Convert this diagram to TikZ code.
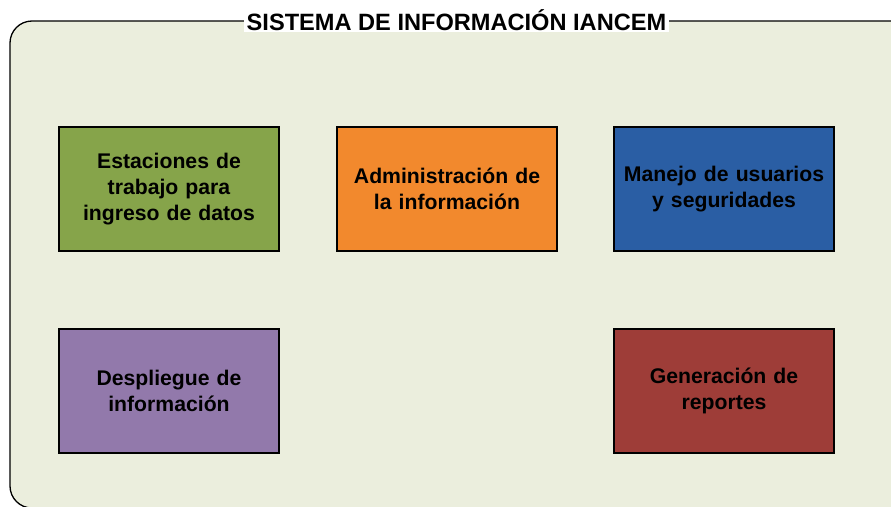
\documentclass[tikz,border=0pt]{standalone}
\usepackage{fontspec}
\setmainfont{Liberation Sans}
\definecolor{bgc}{HTML}{EBEEDD}
\definecolor{cgreen}{HTML}{86A44A}
\definecolor{corange}{HTML}{F2892D}
\definecolor{cblue}{HTML}{2A5EA4}
\definecolor{cpurple}{HTML}{9279AB}
\definecolor{cred}{HTML}{9E3D38}
\begin{document}
\begin{tikzpicture}[x=1pt,y=-1pt,
  box/.style={draw=black,line width=1.3pt,minimum width=220pt,minimum height=124pt,
    align=center,font=\bfseries\fontsize{21.2}{26}\selectfont,inner sep=0pt,text width=210pt}]
\useasboundingbox (0,0) rectangle (891,506);
\clip (0,0) rectangle (891,506);
\fill[white] (0,0) rectangle (891,506);
\draw[fill=bgc,line width=1.3pt,rounded corners=22pt] (10,21) rectangle (920,508);
\node[fill=white,inner xsep=3pt,inner ysep=1pt,font=\bfseries\fontsize{23.6}{25}\selectfont] (title) at (456.5,20) {SISTEMA DE INFORMACIÓN IANCEM};
\node[box,fill=cgreen] (est) at (169,189) {Estaciones de\\trabajo para\\ingreso de datos};
\node[box,fill=corange] (adm) at (447,189) {Administración de\\la información};
\node[box,fill=cblue] (man) at (724,189) {Manejo de usuarios\\y seguridades};
\node[box,fill=cpurple] (des) at (169,391) {Despliegue de\\información};
\node[box,fill=cred] (gen) at (724,391) {Generación de\\reportes};
\end{tikzpicture}
\end{document}
